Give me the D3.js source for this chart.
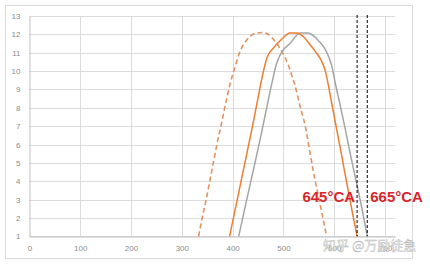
<!DOCTYPE html>
<html>
<head>
<meta charset="utf-8">
<script src="https://d3js.org/d3.v7.min.js"></script>
<style>
  body { margin: 0; background: #fff; }
  .tick text { font-family: "Liberation Sans", Arial, sans-serif; font-size: 8px; fill: #8c8c8c; }
</style>
</head>
<body>
<div id="chart"></div>
<script>
// crank angle ticks / lift ticks
var xTicks = [0, 100, 200, 300, 400, 500, 600, 700];
var yTicks = [1, 2, 3, 4, 5, 6, 7, 8, 9, 10, 11, 12, 13];

// dashed orange curve
var dashedX = [333, 340, 348, 355, 362, 369, 377, 386, 395, 405, 415, 428, 444, 458, 467, 478, 487, 496, 503, 510, 516, 523, 533, 543, 552, 562, 574, 585];
var dashedY = [1.0, 2.0, 3.0, 4.0, 5.0, 6.0, 7.0, 8.2, 9.3, 10.25, 11.1, 11.7, 12.05, 12.1, 12.05, 11.8, 11.5, 11.1, 10.75, 10.3, 9.8, 9.2, 8.05, 7.0, 5.6, 4.1, 2.5, 1.0];

// solid orange curve
var orangeX = [394, 408, 423, 437, 447, 455, 462, 468, 480, 497, 513, 526, 542, 552, 562, 575, 582, 588, 596, 604, 614, 624, 635, 645];
var orangeY = [1.0, 2.85, 4.85, 6.7, 8.1, 9.25, 10.15, 10.75, 11.25, 11.75, 12.08, 12.08, 11.8, 11.45, 11.1, 10.55, 10.05, 9.3, 8.1, 6.95, 5.5, 4.0, 2.4, 1.0];

// gray curve
var grayX = [412, 427, 444, 457, 467, 477, 487, 497, 513, 533, 549, 560, 569, 582, 588, 595, 602, 612, 622, 633, 644, 655, 665];
var grayY = [1.0, 2.9, 5.0, 6.65, 8.0, 9.3, 10.45, 11.05, 11.5, 12.08, 12.08, 11.9, 11.65, 11.2, 10.85, 10.3, 9.35, 8.1, 6.8, 5.3, 3.9, 2.45, 1.0];

var markers = [645, 665];
var markerLabels = ["645°CA", "665°CA"];

var svgWidth = 430;
var svgHeight = 264;

var svg = d3.select("#chart").append("svg")
    .attr("width", svgWidth)
    .attr("height", svgHeight);

// outer chart border
svg.append("rect")
    .attr("x", 5.5)
    .attr("y", 5.5)
    .attr("width", 407)
    .attr("height", 253)
    .attr("fill", "#fff")
    .attr("stroke", "#d9d9d9");

var xScale = d3.scaleLinear().domain([0, 720]).range([29.4, 395.2]);
var yScale = d3.scaleLinear().domain([1, 13]).range([236.3, 16]);

// gridlines
svg.append("g")
    .selectAll("line")
    .data(yTicks)
    .enter()
    .append("line")
    .attr("x1", xScale(0))
    .attr("x2", xScale(720))
    .attr("y1", function(d) { return Math.round(yScale(d)) + 0.5; })
    .attr("y2", function(d) { return Math.round(yScale(d)) + 0.5; })
    .attr("stroke", "#dcdcdc");

svg.append("g")
    .selectAll("line")
    .data(xTicks.slice(1))
    .enter()
    .append("line")
    .attr("x1", function(d) { return Math.round(xScale(d)) + 0.5; })
    .attr("x2", function(d) { return Math.round(xScale(d)) + 0.5; })
    .attr("y1", yScale(13))
    .attr("y2", yScale(1))
    .attr("stroke", "#dcdcdc");

var bottomAxis = d3.axisBottom(xScale).tickValues(xTicks).tickSize(0).tickPadding(9);
var leftAxis = d3.axisLeft(yScale).tickValues(yTicks).tickSize(0).tickPadding(9);

var gx = svg.append("g")
    .attr("transform", "translate(0," + (Math.round(yScale(1)) + 0.5) + ")")
    .call(bottomAxis);
gx.select(".domain").attr("stroke", "#bfbfbf");

var gy = svg.append("g")
    .attr("transform", "translate(" + (Math.round(xScale(0)) + 0.5) + ",0)")
    .call(leftAxis);
gy.select(".domain").attr("stroke", "#bfbfbf");

function pts(xs, ys) {
    return xs.map(function(x, i) { return [x, ys[i]]; });
}

var line = d3.line()
    .x(function(d) { return xScale(d[0]); })
    .y(function(d) { return yScale(d[1]); })
    .curve(d3.curveMonotoneX);

svg.append("path")
    .datum(pts(dashedX, dashedY))
    .attr("d", line)
    .attr("fill", "none")
    .attr("stroke", "#e29362")
    .attr("stroke-width", 1.6)
    .attr("stroke-dasharray", "5,3");

svg.append("path")
    .datum(pts(grayX, grayY))
    .attr("d", line)
    .attr("fill", "none")
    .attr("stroke", "#a5a5a5")
    .attr("stroke-width", 1.5);

svg.append("path")
    .datum(pts(orangeX, orangeY))
    .attr("d", line)
    .attr("fill", "none")
    .attr("stroke", "#ed7d31")
    .attr("stroke-width", 1.5);

// marker lines
svg.append("g")
    .selectAll("line")
    .data(markers)
    .enter()
    .append("line")
    .attr("x1", function(d) { return xScale(d); })
    .attr("x2", function(d) { return xScale(d); })
    .attr("y1", 15)
    .attr("y2", yScale(1))
    .attr("stroke", "#000")
    .attr("stroke-width", 1)
    .attr("stroke-dasharray", "3,2");

svg.append("g")
    .selectAll("text")
    .data(markers)
    .enter()
    .append("text")
    .attr("x", function(d, i) { return i == 0 ? xScale(d) - 2 : xScale(d) + 3; })
    .attr("y", 202)
    .attr("text-anchor", function(d, i) { return i == 0 ? "end" : "start"; })
    .style("font-family", "'Liberation Sans', Arial, sans-serif")
    .style("font-weight", "bold")
    .style("font-size", "15px")
    .attr("fill", "#d7262b")
    .text(function(d, i) { return markerLabels[i]; });

// watermark
svg.append("text")
    .attr("x", 323)
    .attr("y", 250)
    .style("font-family", "'Noto Sans CJK SC', sans-serif")
    .style("font-size", "13px")
    .attr("fill", "#f4f4f4")
    .attr("stroke", "#b4b4b4")
    .attr("stroke-width", 0.4)
    .text("知乎 @万励徒急");
</script>
</body>
</html>
